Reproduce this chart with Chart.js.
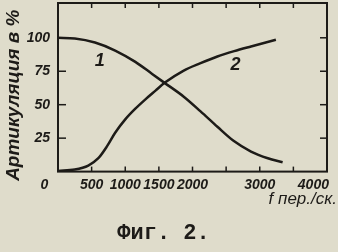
<!DOCTYPE html>
<html>
<head>
<meta charset="utf-8">
<script src="https://cdn.jsdelivr.net/npm/chart.js@4.4.0/dist/chart.umd.min.js"></script>
<style>
  html, body { margin: 0; padding: 0; background: #dfdccb; }
</style>
</head>
<body>
<canvas id="chart" width="338" height="252"></canvas>
<script>
// values: frequency (пер./ск.) against articulation (%)
const freq1 = [0, 250, 550, 850, 1150, 1400, 1580, 1870, 2120, 2370, 2610, 2870, 3120, 3340]
const artic1 = [100, 99.5, 96.5, 90.5, 82, 73, 66.5, 56, 45, 33.5, 23, 15, 10, 7]
const freq2 = [0, 250, 450, 600, 730, 850, 1000, 1150, 1300, 1450, 1590, 1870, 2120, 2370, 2620, 2870, 3240]
const artic2 = [0.5, 1.5, 4.5, 10, 19, 29, 39, 47, 54, 60.5, 66.5, 75.5, 81, 86, 90, 93.5, 98.5]

const xTicks = [0, 500, 1000, 1500, 2000, 2500, 3000, 3500, 4000]
const xTickLabels = ["0       ", "500", "1000", "1500", "2000", "", "3000", "", "4000       "]
const yTicks = [0, 25, 50, 75, 100]
const yTickLabels = ["", "25", "50", "75", "100"]

const curveNames = ["1", "2"]
const curveNameAt = [[620, 83], [2640, 80]]
const xTitle = "f пер./ск."

const ink = "#1d1b18"
const tickFont = { family: "'Liberation Sans', Arial, sans-serif", size: 14, style: "italic", weight: "bold" }

const toPoints = (xs, ys) => xs.map((v, i) => ({ x: v, y: ys[i] }))

// frame, inward tick marks, curve numbers and the frequency label
const paperFrame = {
  id: "paperFrame",
  afterDatasetsDraw(chart) {
    const { ctx, chartArea: a, scales: { x, y } } = chart
    const line = (x1, y1, x2, y2) => {
      ctx.beginPath()
      ctx.moveTo(x1, y1)
      ctx.lineTo(x2, y2)
      ctx.stroke()
    }
    ctx.save()
    ctx.strokeStyle = ink
    ctx.lineWidth = 2
    ctx.strokeRect(a.left, a.top, a.right - a.left, a.bottom - a.top)
    ctx.lineWidth = 1.5
    xTicks.forEach(v => {
      if (v <= 0 || v >= 4000) return
      const px = x.getPixelForValue(v)
      line(px, a.bottom, px, a.bottom - 5)
      line(px, a.top, px, a.top + 5)
    })
    yTicks.forEach(v => {
      if (v <= 0) return
      const py = y.getPixelForValue(v)
      line(a.left, py, a.left + 8, py)
      line(a.right, py, a.right - 7, py)
    })
    ctx.fillStyle = ink
    ctx.font = "italic bold 18px 'Liberation Sans', Arial, sans-serif"
    ctx.textAlign = "center"
    ctx.textBaseline = "middle"
    curveNames.forEach((name, i) => {
      ctx.fillText(name, x.getPixelForValue(curveNameAt[i][0]), y.getPixelForValue(curveNameAt[i][1]))
    })
    ctx.font = "italic 17px 'Liberation Sans', Arial, sans-serif"
    ctx.textAlign = "right"
    ctx.textBaseline = "alphabetic"
    ctx.fillText(xTitle, a.right + 10, a.bottom + 32)
    ctx.restore()
  }
}

const lineStyle = {
  borderColor: ink,
  borderWidth: 2.5,
  pointRadius: 0,
  fill: false,
  cubicInterpolationMode: "monotone"
}

const config = {
  type: "line",
  data: {
    datasets: [
      { label: "1", data: toPoints(freq1, artic1), ...lineStyle },
      { label: "2", data: toPoints(freq2, artic2), ...lineStyle }
    ]
  },
  options: {
    responsive: false,
    animation: false,
    devicePixelRatio: 1,
    layout: { padding: { top: 3, right: 11, left: 0, bottom: 0 } },
    plugins: {
      legend: { display: false },
      tooltip: { enabled: false },
      title: {
        display: true,
        position: "bottom",
        text: "Фиг. 2.",
        color: ink,
        font: { family: "'Liberation Mono', 'Courier New', monospace", size: 22, weight: "bold" },
        padding: { top: 0, bottom: 5 }
      }
    },
    scales: {
      x: {
        type: "linear",
        min: 0,
        max: 4000,
        grid: { display: false, drawTicks: false },
        border: { display: false },
        afterBuildTicks: scale => { scale.ticks = xTicks.map(v => ({ value: v })) },
        afterFit: scale => {
          scale.height = 49
          scale.paddingLeft = 0
          scale.paddingRight = 0
        },
        ticks: {
          autoSkip: false,
          maxRotation: 0,
          padding: 5,
          color: ink,
          font: tickFont,
          callback: (v, i) => xTickLabels[i]
        }
      },
      y: {
        min: 0,
        max: 126,
        grid: { display: false, drawTicks: false },
        border: { display: false },
        afterBuildTicks: scale => { scale.ticks = yTicks.map(v => ({ value: v })) },
        afterFit: scale => {
          scale.width = 58
          scale.paddingTop = 0
          scale.paddingBottom = 0
        },
        ticks: {
          padding: 8,
          color: ink,
          font: tickFont,
          callback: (v, i) => yTickLabels[i]
        },
        title: {
          display: true,
          text: "Артикуляция в %   ",
          color: ink,
          font: { family: "'Liberation Sans', Arial, sans-serif", size: 19, style: "italic", weight: "bold" },
          padding: { top: 2, bottom: 0 }
        }
      }
    }
  },
  plugins: [paperFrame]
}

document.addEventListener("DOMContentLoaded", () => {
  new Chart(document.querySelector("#chart"), config)
})
</script>
</body>
</html>
